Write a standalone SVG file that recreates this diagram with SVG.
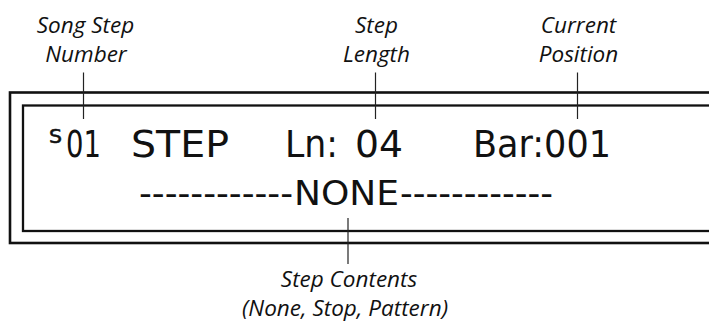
<svg xmlns="http://www.w3.org/2000/svg" width="709" height="325" viewBox="0 0 709 325">
<style>
.lbl{font-family:"Open Sans","Noto Sans",sans-serif;font-style:italic;font-size:22.5px;fill:#111;text-anchor:middle}
.lcd{font-family:"DejaVu Sans","Liberation Sans",sans-serif;fill:#111}
.lead{stroke:#222;stroke-width:1.2;fill:none}
.frame{fill:none;stroke:#111}
</style>
<rect width="709" height="325" fill="#fff"/>
<g id="display">
<rect class="frame" x="10" y="92.5" width="720" height="150.5" stroke-width="2.6"/>
<rect class="frame" x="23" y="105.5" width="710" height="125.5" stroke-width="2.3"/>
</g>
<g id="display-text">
<text class="lcd" x="49" y="143" font-size="20" textLength="13" lengthAdjust="spacingAndGlyphs" stroke="#111" stroke-width="0.6">S</text>
<text class="lcd" x="66" y="157" font-size="37" textLength="35" lengthAdjust="spacingAndGlyphs">01</text>
<text class="lcd" x="131" y="157" font-size="37" textLength="98" lengthAdjust="spacingAndGlyphs">STEP</text>
<text class="lcd" x="285" y="157" font-size="37" textLength="53" lengthAdjust="spacingAndGlyphs">Ln:</text>
<text class="lcd" x="355" y="157" font-size="37" textLength="48" lengthAdjust="spacingAndGlyphs">04</text>
<text class="lcd" x="473" y="157" font-size="37" textLength="138" lengthAdjust="spacingAndGlyphs">Bar:001</text>
<text class="lcd" x="139" y="205" font-size="34" textLength="154" lengthAdjust="spacingAndGlyphs">------------</text>
<text class="lcd" x="294" y="205" font-size="34" textLength="105" lengthAdjust="spacingAndGlyphs">NONE</text>
<text class="lcd" x="400" y="205" font-size="34" textLength="153" lengthAdjust="spacingAndGlyphs">------------</text>
</g>
<g id="connectors">
<line class="lead" x1="83.5" y1="72.5" x2="83.5" y2="119"/>
<line class="lead" x1="375.5" y1="72.5" x2="375.5" y2="119"/>
<line class="lead" x1="577.5" y1="72.5" x2="577.5" y2="119"/>
<line class="lead" x1="348" y1="218" x2="348" y2="264"/>
</g>
<g id="label-song-step">
<text class="lbl" x="85.5" y="33">Song Step</text>
<text class="lbl" x="86" y="61.5">Number</text>
</g>
<g id="label-step-length">
<text class="lbl" x="376.5" y="33">Step</text>
<text class="lbl" x="376.5" y="61.5">Length</text>
</g>
<g id="label-current-position">
<text class="lbl" x="578.5" y="33">Current</text>
<text class="lbl" x="578.5" y="61.5">Position</text>
</g>
<g id="label-step-contents">
<text class="lbl" x="349" y="287">Step Contents</text>
<text class="lbl" x="345" y="316">(None, Stop, Pattern)</text>
</g>
</svg>
